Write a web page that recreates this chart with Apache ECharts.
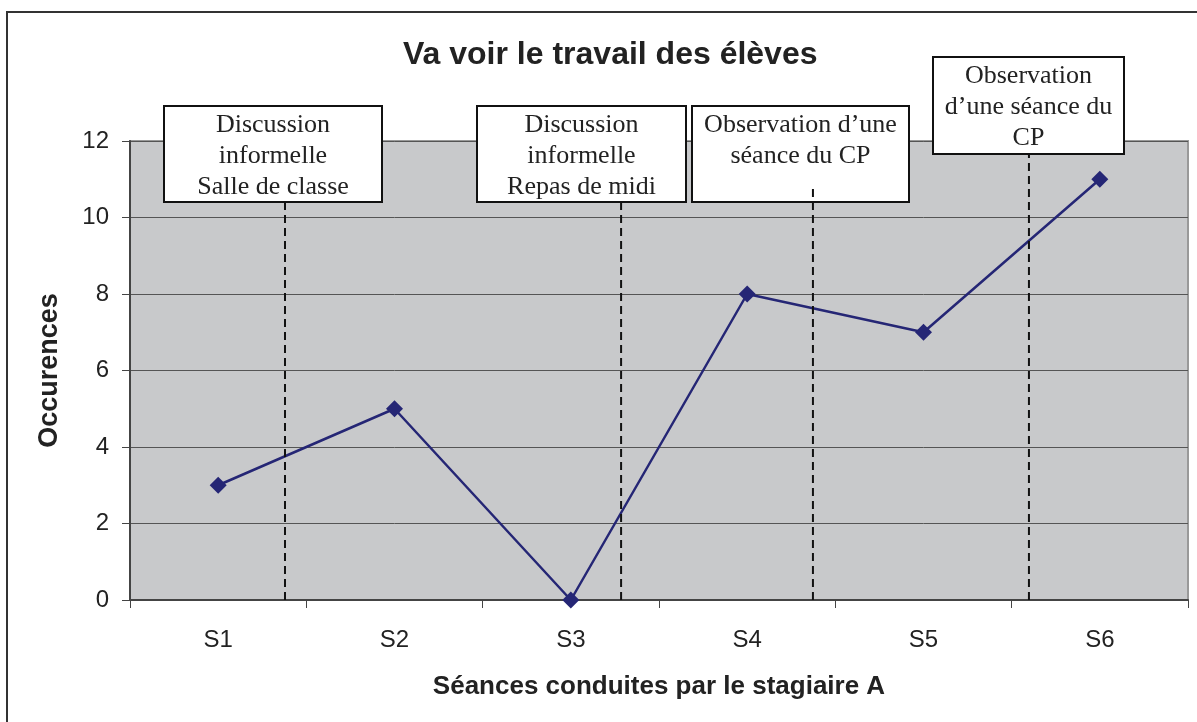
<!DOCTYPE html>
<html>
<head>
<meta charset="utf-8">
<script src="https://cdn.jsdelivr.net/npm/echarts@6/dist/echarts.min.js"></script>
<style>
  html, body { margin: 0; padding: 0; background: #fff; }
  #chart { width: 1197px; height: 722px; }
</style>
</head>
<body>
<div id="chart"></div>
<script>
  // séances et occurrences
  const seances = ['S1', 'S2', 'S3', 'S4', 'S5', 'S6'];
  const occurences = [3, 5, 0, 8, 7, 11];
  const yTicks = [0, 2, 4, 6, 8, 10, 12];

  // repères des évènements (position sur l'axe des séances, hauteur du trait)
  const eventPos = [0.879, 2.785, 3.873, 5.098];
  const eventTop = [10.4, 10.4, 10.85, 11.66];
  const eventText = [
    'Discussion\ninformelle\nSalle de classe',
    'Discussion\ninformelle\nRepas de midi',
    'Observation d\u2019une\nséance du CP\n ',
    'Observation\nd\u2019une séance du\nCP'
  ];

  const chart = echarts.init(document.getElementById('chart'));

  const dashSeries = eventPos.map(function (p, i) {
    return {
      type: 'line',
      xAxisIndex: 1,
      data: [[p, 0], [p, eventTop[i]]],
      symbol: 'none',
      z: 20,
      silent: true,
      lineStyle: { color: '#111', width: 2, type: [8, 5] }
    };
  });

  // cadres de texte
  const boxes = [
    { x: 164, y: 106, w: 218, h: 96 },
    { x: 477, y: 106, w: 209, h: 96 },
    { x: 692, y: 106, w: 217, h: 96 },
    { x: 933, y: 57, w: 191, h: 97 }
  ];
  const boxGraphics = [];
  boxes.forEach(function (b, i) {
    boxGraphics.push({
      type: 'rect', z: 10,
      shape: { x: b.x, y: b.y, width: b.w, height: b.h },
      style: { fill: '#fff', stroke: '#111', lineWidth: 2 }
    });
    boxGraphics.push({
      type: 'text', z: 11,
      x: b.x + b.w / 2, y: b.y + 4,
      style: {
        text: eventText[i],
        font: '26px "Liberation Serif", "DejaVu Serif", serif',
        fill: '#222',
        align: 'center',
        verticalAlign: 'top',
        lineHeight: 31
      }
    });
  });

  const option = {
    backgroundColor: '#fff',
    animation: false,
    title: {
      text: 'Va voir le travail des élèves',
      left: 398,
      top: 34,
      textStyle: {
        fontFamily: 'Liberation Sans, Arial, sans-serif',
        fontSize: 32,
        fontWeight: 'bold',
        color: '#222'
      }
    },
    grid: {
      left: 130,
      right: 9,
      top: 141,
      bottom: 122,
      show: true,
      backgroundColor: '#c8c9cb',
      borderColor: '#999',
      borderWidth: 2
    },
    xAxis: [{
      type: 'category',
      data: seances,
      boundaryGap: true,
      name: 'Séances conduites par le stagiaire A',
      nameLocation: 'middle',
      nameGap: 74,
      nameTextStyle: {
        fontFamily: 'Liberation Sans, Arial, sans-serif',
        fontSize: 26,
        fontWeight: 'bold',
        color: '#222'
      },
      axisLine: { lineStyle: { color: '#444', width: 2 } },
      axisTick: { show: true, length: 8, interval: 0, lineStyle: { color: '#444' } },
      axisLabel: {
        margin: 28,
        fontFamily: 'Liberation Sans, Arial, sans-serif',
        fontSize: 24,
        color: '#222'
      },
      splitLine: { show: false }
    }, {
      type: 'value',
      min: 0,
      max: 6,
      show: false
    }],
    yAxis: {
      type: 'value',
      min: 0,
      max: 12,
      interval: 2,
      name: 'Occurences',
      nameLocation: 'middle',
      nameRotate: 90,
      nameGap: 67,
      nameTextStyle: {
        fontFamily: 'Liberation Sans, Arial, sans-serif',
        fontSize: 27,
        fontWeight: 'bold',
        color: '#222'
      },
      axisLine: { show: true, lineStyle: { color: '#444', width: 2 } },
      axisTick: { show: true, length: 8, lineStyle: { color: '#444' } },
      axisLabel: {
        margin: 21,
        fontFamily: 'Liberation Sans, Arial, sans-serif',
        fontSize: 24,
        color: '#222',
        formatter: function (v) { return yTicks.indexOf(v) >= 0 ? String(v) : ''; }
      },
      splitLine: { show: true, lineStyle: { color: '#555', width: 1 } }
    },
    graphic: [{
      type: 'rect', z: 5, silent: true,
      shape: { x: 7, y: 12, width: 1400, height: 900 },
      style: { fill: 'none', stroke: '#333', lineWidth: 2 }
    }].concat(boxGraphics),
    series: [{
      type: 'line',
      data: occurences,
      z: 15,
      symbol: 'diamond',
      symbolSize: 17,
      itemStyle: { color: '#252675' },
      lineStyle: { color: '#252675', width: 2.5 }
    }].concat(dashSeries)
  };

  chart.setOption(option);
  window.addEventListener('resize', function () {
    chart.resize();
  });
</script>
</body>
</html>
